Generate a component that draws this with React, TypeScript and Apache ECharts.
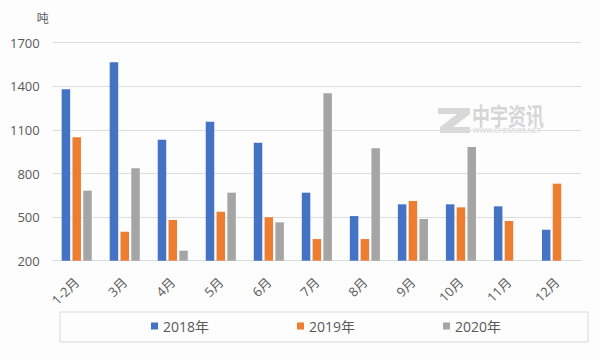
import React, { useEffect, useRef } from "react";
import * as echarts from "echarts";

const categories = ["1-2月", "3月", "4月", "5月", "6月", "7月", "8月", "9月", "10月", "11月", "12月"];
const seriesNames = ["2018年", "2019年", "2020年"];
const data2018 = [1380, 1565, 1032, 1156, 1012, 668, 507, 588, 588, 574, 413];
const data2019 = [1050, 400, 480, 537, 499, 349, 349, 611, 567, 473, 730];
const data2020 = [682, 836, 269, 668, 464, 1352, 973, 487, 982, null, null];
const colors = ["#4472C4", "#ED7D31", "#A5A5A5"];
const yMin = 200;
const yMax = 1700;
const yInterval = 300;
const unitName = "吨";

const FONT = '"Open Sans", "Noto Sans CJK SC", sans-serif';

export default function App() {
  const ref = useRef<HTMLDivElement>(null);
  useEffect(() => {
    if (!ref.current) return;
    const chart = echarts.init(ref.current, null, { renderer: "svg" });
    const allData = [data2018, data2019, data2020];
    chart.setOption({
      animation: false,
      backgroundColor: "#fdfdfd",
      textStyle: { fontFamily: FONT },
      grid: { left: 52.7, right: 19, top: 42.7, bottom: 99.3 },
      legend: {
        data: seriesNames,
        left: 151,
        top: 319,
        padding: 0,
        itemWidth: 7,
        itemHeight: 7,
        itemGap: 88,
        icon: "rect",
        textStyle: { fontSize: 14, color: "#595959", fontFamily: FONT },
      },
      xAxis: {
        type: "category",
        data: categories,
        axisLine: { lineStyle: { color: "#d9d9d9" } },
        axisTick: { show: false },
        axisLabel: { rotate: 45, fontSize: 13, color: "#595959", margin: 19, interval: 0 },
      },
      yAxis: {
        type: "value",
        min: yMin,
        max: yMax,
        interval: yInterval,
        name: unitName,
        nameLocation: "end",
        nameGap: 18,
        nameTextStyle: { fontSize: 12, color: "#595959", align: "right", padding: [0, 4, 0, 0] },
        axisLine: { show: false },
        axisTick: { show: false },
        axisLabel: { fontSize: 13, color: "#595959", margin: 13, formatter: (v: number) => String(v) },
        splitLine: { lineStyle: { color: "#dedede" } },
      },
      series: seriesNames.map((name, i) => ({
        name,
        type: "bar",
        data: allData[i],
        barWidth: 8.5,
        barGap: "27%",
        itemStyle: { color: colors[i] },
      })),
      graphic: [
        {
          type: "rect",
          shape: { x: 60, y: 312, width: 528, height: 30 },
          style: { fill: "none", stroke: "#d9d9d9", lineWidth: 1 },
          silent: true,
        },
        {
          type: "polygon",
          shape: {
            points: [
              [438, 108], [470, 108], [470, 114], [453, 127], [470, 127], [470, 133],
              [440, 133], [440, 127], [457, 114], [438, 114],
            ],
          },
          style: { fill: "#d8d8d8" },
          silent: true,
        },
        {
          type: "text",
          x: 472,
          y: 103,
          scaleY: 1.3,
          style: { text: "中宇资讯", fontSize: 18, fontWeight: "bold", fill: "#d6d6d6", fontFamily: '"Noto Sans CJK SC", sans-serif' },
          silent: true,
        },
        {
          type: "text",
          x: 473,
          y: 127,
          style: { text: "WWW.CHEM365.NET", fontSize: 7, fill: "#d0d0d0", fontFamily: FONT },
          silent: true,
        },
      ],
    });
    return () => chart.dispose();
  }, []);
  return <div ref={ref} style={{ position: "fixed", left: 0, top: 0, width: 600, height: 360 }} />;
}
